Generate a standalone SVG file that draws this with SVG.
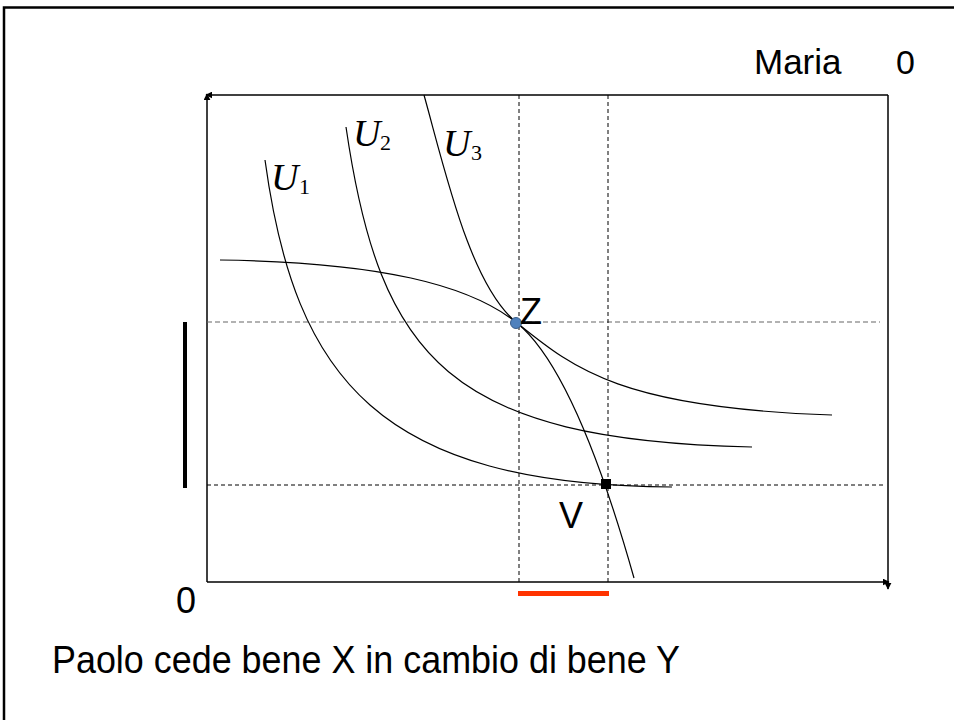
<svg xmlns="http://www.w3.org/2000/svg" width="954" height="720" viewBox="0 0 954 720">
<defs>
<style>
.ax{fill:none;stroke:#000;stroke-width:1.5}
.cv{fill:none;stroke:#000;stroke-width:1.2}
.dash{fill:none;stroke:#000;stroke-width:1;stroke-dasharray:4 3}
.dashg{fill:none;stroke:#666;stroke-width:1.2;stroke-dasharray:5 3}
.t{font-family:"Liberation Sans",Arial,sans-serif;fill:#000}
.u{font-family:"Liberation Serif","Times New Roman",serif;fill:#000}
</style>
<marker id="ah" viewBox="0 0 10 10" refX="9" refY="5" markerWidth="7" markerHeight="7" orient="auto" markerUnits="userSpaceOnUse"><path d="M0,0 L10,5 L0,10 z" fill="#000"/></marker>
</defs>
<rect width="954" height="720" fill="#fff"/>
<rect x="4" y="7.5" width="970" height="740" fill="none" stroke="#000" stroke-width="2.5"/>
<g id="connectors">
<line class="ax" x1="207" y1="582" x2="207" y2="94" marker-end="url(#ah)"/>
<line class="ax" x1="888" y1="95" x2="206" y2="95" marker-end="url(#ah)"/>
<line class="ax" x1="207" y1="582" x2="889" y2="582" marker-end="url(#ah)"/>
<line class="ax" x1="888" y1="95" x2="888" y2="589" marker-end="url(#ah)"/>
<line class="dashg" x1="207" y1="322" x2="880" y2="322"/>
<line class="dash" x1="207" y1="485" x2="885" y2="485"/>
<line class="dash" x1="519" y1="95" x2="519" y2="582"/>
<line class="dash" x1="608" y1="95" x2="608" y2="582"/>
</g>
<g id="maria-curve"><path class="cv" d="M220,260 C380,262 470,285 517,323 C555,354 595,440 634,578"/></g>
<g id="U3"><path class="cv" d="M424,95 C445,170 470,285 517,323 C573,368 620,408 832,415"/><text class="u" x="443" y="156" font-size="38" font-style="italic">U</text><text class="u" x="471" y="160" font-size="22">3</text></g>
<g id="U2"><path class="cv" d="M346,127 C380,360 450,440 752,447"/><text class="u" x="353" y="146" font-size="38" font-style="italic">U</text><text class="u" x="380" y="150" font-size="22">2</text></g>
<g id="U1"><path class="cv" d="M265,160 C295,380 380,485 672,487"/><text class="u" x="271" y="190" font-size="38" font-style="italic">U</text><text class="u" x="299" y="194" font-size="22">1</text></g>
<g id="Z"><circle cx="516" cy="323" r="5.5" fill="#4f81bd" stroke="#385d8a" stroke-width="1"/><text class="t" x="520" y="324" font-size="36">Z</text></g>
<g id="V"><rect x="601" y="479" width="10" height="10" fill="#000"/><text class="t" x="559" y="528" font-size="36">V</text></g>
<g id="bars"><rect x="183" y="322" width="4" height="166" fill="#000"/><rect x="518" y="591" width="91" height="5" fill="#ff3300"/></g>
<g id="labels">
<text class="t" x="176" y="613" font-size="36">0</text>
<text class="t" x="754" y="74" font-size="35">Maria</text>
<text class="t" x="896" y="74" font-size="34">0</text>
<text class="t" x="52" y="673" font-size="38" textLength="628" lengthAdjust="spacingAndGlyphs">Paolo cede bene X in cambio di bene Y</text>
</g>
</svg>
